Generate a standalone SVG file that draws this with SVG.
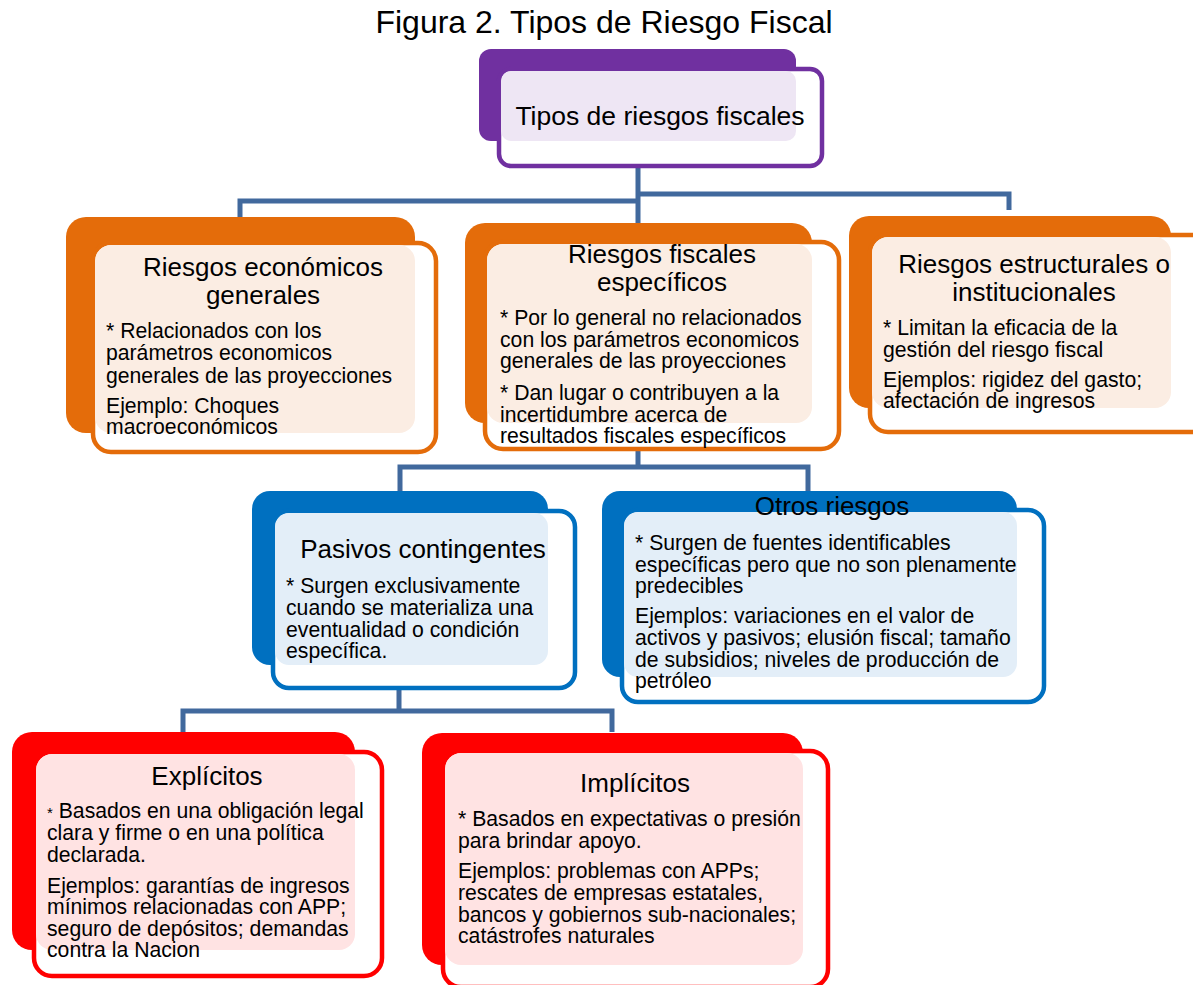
<svg xmlns="http://www.w3.org/2000/svg" width="1193" height="985" viewBox="0 0 1193 985">
<style>
text{font-family:"Liberation Sans",Arial,sans-serif;fill:#000}
.ttl{font-size:26px;text-anchor:middle}
.body{font-size:21.2px}
.conn{fill:none;stroke:#41699D;stroke-width:5;stroke-linejoin:miter}
.fr{fill:#fff;stroke-width:4.5}
.p .bk{fill:#7030A0}.p .fr{stroke:#7030A0}.p .tn{fill:#EEE6F4}
.o .bk{fill:#E46C0A}.o .fr{stroke:#E46C0A}.o .tn{fill:#FBEDE3}
.b .bk{fill:#0070C0}.b .fr{stroke:#0070C0}.b .tn{fill:#E3EEF8}
.r .bk{fill:#FF0000}.r .fr{stroke:#FF0000}.r .tn{fill:#FFE3E3}
</style>
<text x="604" y="33" style="font-size:32px;text-anchor:middle">Figura 2. Tipos de Riesgo Fiscal</text>
<g id="connectors">
<path class="conn" d="M638 160V223M240 217V201H638M638 194H1009V210"/>
<path class="conn" d="M638 445V467M400 491V467H808V491"/>
<path class="conn" d="M399 685V711M183 732V711H612V732"/>
</g>
<g id="n-top" class="p">
<rect class="bk" x="479" y="49" width="317" height="92" rx="12"/>
<rect class="fr" x="499" y="69" width="323" height="97" rx="12"/>
<rect class="tn" x="501" y="71" width="295" height="70" rx="10"/>
<text class="ttl" x="660" y="125" style="font-size:26.5px">Tipos de riesgos fiscales</text>
</g>
<g id="n-economicos" class="o">
<rect class="bk" x="66" y="217" width="349" height="216" rx="20"/>
<rect class="fr" x="93" y="243" width="343" height="209" rx="18"/>
<rect class="tn" x="95" y="245" width="320" height="188" rx="16"/>
<text class="ttl" x="263" y="276">Riesgos económicos</text>
<text class="ttl" x="263" y="304">generales</text>
<text class="body" x="106"><tspan x="106" y="338">* Relacionados con los</tspan><tspan x="106" y="360">parámetros economicos</tspan><tspan x="106" y="383">generales de las proyecciones</tspan><tspan x="106" y="413">Ejemplo: Choques</tspan><tspan x="106" y="434">macroeconómicos</tspan></text>
</g>
<g id="n-especificos" class="o">
<rect class="bk" x="465" y="223" width="347" height="200" rx="20"/>
<rect class="fr" x="485" y="242" width="354" height="207" rx="18"/>
<rect class="tn" x="487" y="244" width="325" height="179" rx="16"/>
<text class="ttl" x="662" y="263">Riesgos fiscales</text>
<text class="ttl" x="662" y="291">específicos</text>
<text class="body" x="500"><tspan x="500" y="325">* Por lo general no relacionados</tspan><tspan x="500" y="347">con los parámetros economicos</tspan><tspan x="500" y="368">generales de las proyecciones</tspan><tspan x="500" y="400">* Dan lugar o contribuyen a la</tspan><tspan x="500" y="422">incertidumbre acerca de</tspan><tspan x="500" y="443">resultados fiscales específicos</tspan></text>
</g>
<g id="n-estructurales" class="o">
<rect class="bk" x="849" y="216" width="322" height="192" rx="20"/>
<rect class="fr" x="870" y="235" width="340" height="197" rx="18"/>
<rect class="tn" x="872" y="237" width="299" height="171" rx="16"/>
<text class="ttl" x="1034" y="273">Riesgos estructurales o</text>
<text class="ttl" x="1034" y="301">institucionales</text>
<text class="body" x="883"><tspan x="883" y="335">* Limitan la eficacia de la</tspan><tspan x="883" y="357">gestión del riesgo fiscal</tspan><tspan x="883" y="387">Ejemplos: rigidez del gasto;</tspan><tspan x="883" y="408">afectación de ingresos</tspan></text>
</g>
<g id="n-pasivos" class="b">
<rect class="bk" x="252" y="491" width="296" height="174" rx="18"/>
<rect class="fr" x="273" y="511" width="302" height="177" rx="16"/>
<rect class="tn" x="275" y="513" width="273" height="152" rx="14"/>
<text class="ttl" x="423" y="558">Pasivos contingentes</text>
<text class="body" x="286"><tspan x="286" y="593">* Surgen exclusivamente</tspan><tspan x="286" y="615">cuando se materializa una</tspan><tspan x="286" y="637">eventualidad o condición</tspan><tspan x="286" y="658">específica.</tspan></text>
</g>
<g id="n-otros" class="b">
<rect class="bk" x="602" y="491" width="415" height="186" rx="18"/>
<rect class="fr" x="622" y="510" width="422" height="192" rx="16"/>
<rect class="tn" x="624" y="512" width="393" height="165" rx="14"/>
<text class="ttl" x="832" y="515">Otros riesgos</text>
<text class="body" x="635"><tspan x="635" y="550">* Surgen de fuentes identificables</tspan><tspan x="635" y="572">específicas pero que no son plenamente</tspan><tspan x="635" y="593">predecibles</tspan><tspan x="635" y="623">Ejemplos: variaciones en el valor de</tspan><tspan x="635" y="645">activos y pasivos; elusión fiscal; tamaño</tspan><tspan x="635" y="667">de subsidios; niveles de producción de</tspan><tspan x="635" y="688">petróleo</tspan></text>
</g>
<g id="n-explicitos" class="r">
<rect class="bk" x="12" y="732" width="343" height="218" rx="20"/>
<rect class="fr" x="34" y="752" width="348" height="224" rx="18"/>
<rect class="tn" x="36" y="754" width="319" height="196" rx="16"/>
<text class="ttl" x="207" y="785">Explícitos</text>
<text class="body" x="47"><tspan x="47" y="818"><tspan style="font-size:15px">*</tspan> Basados en una obligación legal</tspan><tspan x="47" y="840">clara y firme o en una política</tspan><tspan x="47" y="862">declarada.</tspan><tspan x="47" y="893">Ejemplos: garantías de ingresos</tspan><tspan x="47" y="914">mínimos relacionadas con APP;</tspan><tspan x="47" y="936">seguro de depósitos; demandas</tspan><tspan x="47" y="957">contra la Nacion</tspan></text>
</g>
<g id="n-implicitos" class="r">
<rect class="bk" x="422" y="733" width="381" height="232" rx="20"/>
<rect class="fr" x="443" y="751" width="385" height="236" rx="18"/>
<rect class="tn" x="445" y="753" width="358" height="212" rx="16"/>
<text class="ttl" x="635" y="792">Implícitos</text>
<text class="body" x="458"><tspan x="458" y="826">* Basados en expectativas o presión</tspan><tspan x="458" y="848">para brindar apoyo.</tspan><tspan x="458" y="878">Ejemplos: problemas con APPs;</tspan><tspan x="458" y="900">rescates de empresas estatales,</tspan><tspan x="458" y="922">bancos y gobiernos sub-nacionales;</tspan><tspan x="458" y="943">catástrofes naturales</tspan></text>
</g>
</svg>
